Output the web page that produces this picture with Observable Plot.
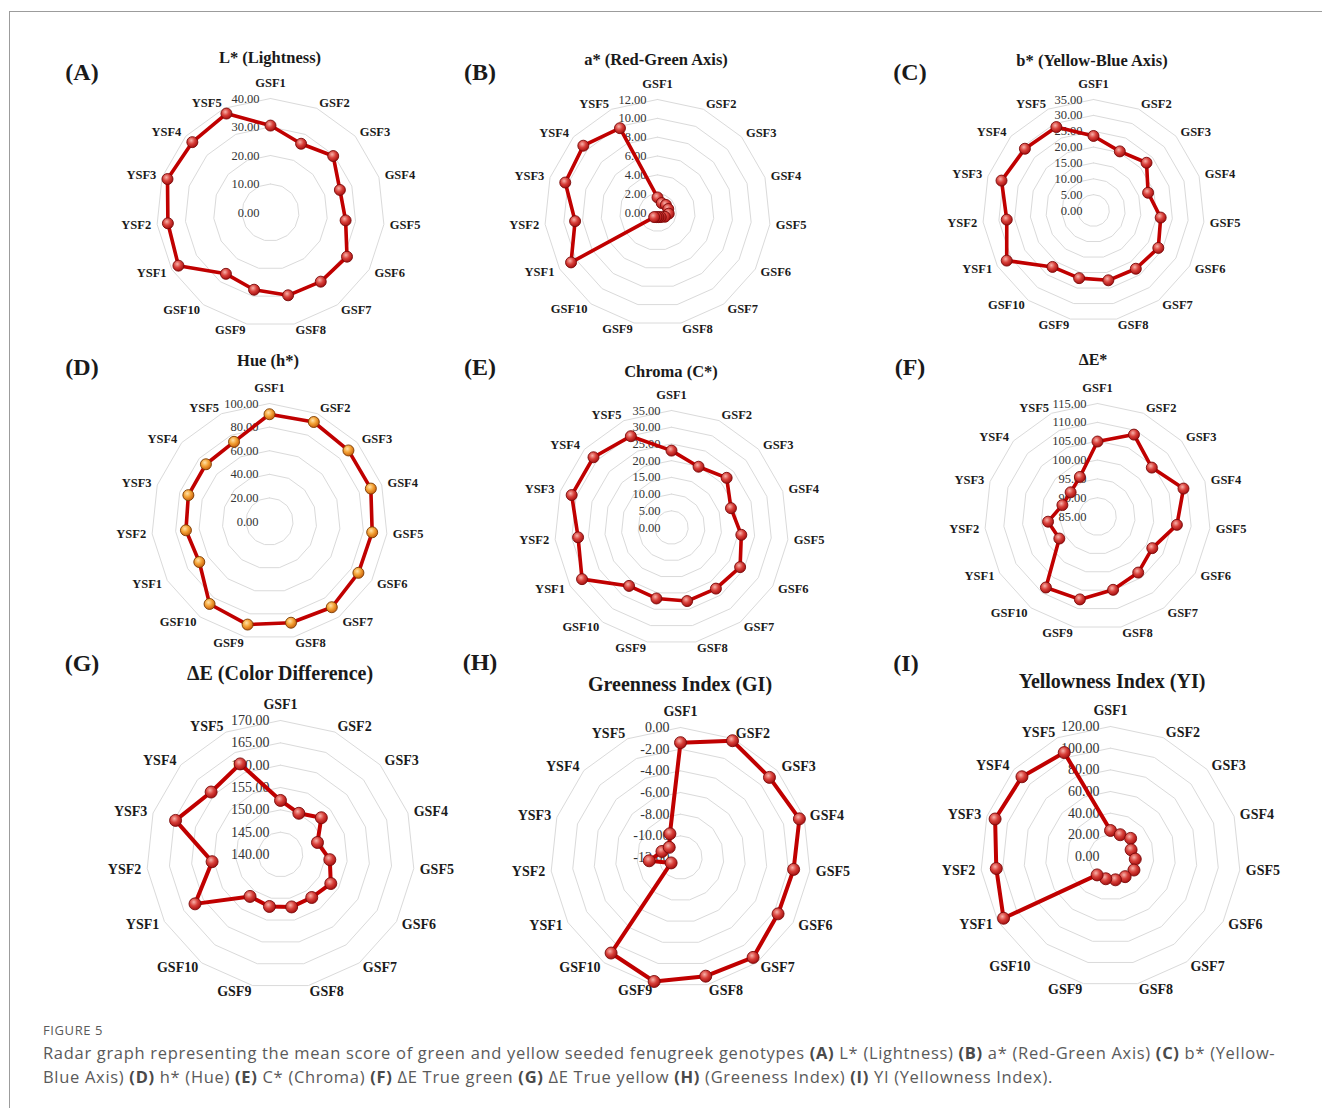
<!DOCTYPE html>
<html>
<head>
<meta charset="utf-8">
<script src="https://cdn.jsdelivr.net/npm/d3@7"></script>
<script src="https://cdn.jsdelivr.net/npm/@observablehq/plot@0.6"></script>
<style>
  html, body { margin: 0; padding: 0; background: #fff; }
  body { width: 1322px; height: 1108px; position: relative; overflow: hidden; font-family: "Liberation Serif", "Times New Roman", serif; }
  #frame { position: absolute; left: 9px; top: 11px; width: 1400px; height: 1200px; border-top: 1.5px solid #9c9c9c; border-left: 1.5px solid #9c9c9c; }
  .panel { position: absolute; }
  .letter { position: absolute; font: bold 24px "Liberation Serif", serif; color: #1a1a1a; transform: translate(-50%, -50%); white-space: nowrap; }
  .title { position: absolute; font-family: "Liberation Serif", serif; font-weight: bold; color: #1a1a1a; transform: translate(-50%, -50%); white-space: nowrap; }
  #figlabel { position: absolute; left: 43px; top: 1021px; font: 13px "Open Sans", sans-serif; color: #5a5a5a; letter-spacing: 0.6px; }
  #caption { position: absolute; left: 43px; top: 1041px; font: 16.5px/24px "Open Sans", sans-serif; color: #5a5a5a; white-space: nowrap; letter-spacing: 0.69px; }
  #caption b { font-weight: 700; color: #4a4a4a; }
</style>
</head>
<body>
<svg width="0" height="0" style="position:absolute">
  <defs>
    <radialGradient id="gRed" cx="40%" cy="35%" r="65%">
      <stop offset="0" stop-color="#f7b2aa"/>
      <stop offset="0.5" stop-color="#d8403a"/>
      <stop offset="1" stop-color="#a50f0f"/>
    </radialGradient>
    <radialGradient id="gOrange" cx="40%" cy="35%" r="65%">
      <stop offset="0" stop-color="#ffe2a8"/>
      <stop offset="0.5" stop-color="#f4a235"/>
      <stop offset="1" stop-color="#c8600e"/>
    </radialGradient>
  </defs>
</svg>
<div id="frame"></div>
<div id="figlabel">FIGURE 5</div>
<div id="caption">Radar graph representing the mean score of green and yellow seeded fenugreek genotypes <b>(A)</b> L* (Lightness) <b>(B)</b> a* (Red-Green Axis) <b>(C)</b> b* (Yellow-<br>Blue Axis) <b>(D)</b> h* (Hue) <b>(E)</b> C* (Chroma) <b>(F)</b> ΔE True green <b>(G)</b> ΔE True yellow <b>(H)</b> (Greeness Index) <b>(I)</b> YI (Yellowness Index).</div>
<script>
// ---------- data ----------
const categories = ["GSF1","GSF2","GSF3","GSF4","GSF5","GSF6","GSF7","GSF8","GSF9","GSF10","YSF1","YSF2","YSF3","YSF4","YSF5"];

const lightness    = [30.5,26.4,29.6,25.6,26.5,31.0,30.0,29.7,27.7,26.6,37.3,36.2,38.0,36.9,38.0];
const lightnessTicks = [0,10,20,30,40];

const redGreen     = [1.6,1.1,1.2,1.2,1.2,0.9,0.6,0.5,0.5,0.6,10.6,8.8,10.3,10.6,9.8];
const redGreenTicks = [0,2,4,6,8,10,12];

const yellowBlue   = [23.5,20.4,22.5,18.1,21.3,23.6,22.7,22.5,21.8,22.0,31.6,27.5,30.5,29.1,28.8];
const yellowBlueTicks = [0,5,10,15,20,25,30,35];

const hue          = [90.9,92.3,90.0,90.3,87.5,87.0,89.8,87.7,89.3,86.4,68.7,71.2,72.3,72.5,73.9];
const hueTicks = [0,20,40,60,80,100];

const chroma       = [23.0,19.9,22.2,18.7,21.0,23.7,22.6,22.5,21.7,21.6,30.9,28.1,31.4,31.4,29.9];
const chromaTicks = [0,5,10,15,20,25,30,35];

const deltaEStar   = [104.9,108.8,104.4,109.0,106.2,101.8,103.4,104.9,107.5,108.3,96.7,98.2,94.8,94.6,96.5];
const deltaEStarTicks = [85,90,95,100,105,110,115];

const colorDiff    = [152.1,150.1,152.3,148.7,151.1,153.0,151.9,152.0,151.9,151.6,162.1,155.4,164.7,160.9,162.2];
const colorDiffTicks = [140,145,150,155,160,165,170];

const greenness    = [-1.4,-0.2,-0.95,-0.46,-1.5,-1.6,-0.6,-0.8,-0.3,-1.1,-11.0,-9.1,-10.2,-10.6,-9.6];
const greennessTicks = [-12,-10,-8,-6,-4,-2,0];

const yellowness   = [24,22,25,20,23,25,23,22,21,21,114,106,112,110,105];
const yellownessTicks = [0,20,40,60,80,100,120];

const panelLetters = ["(A)","(B)","(C)","(D)","(E)","(F)","(G)","(H)","(I)"];
const panelTitles  = ["L* (Lightness)","a* (Red-Green Axis)","b* (Yellow-Blue Axis)","Hue (h*)","Chroma (C*)","ΔE*","ΔE (Color Difference)","Greenness Index (GI)","Yellowness Index (YI)"];

// ---------- layout ----------
const panels = [
  {values: lightness,  ticks: lightnessTicks,  cx: 270,  cy: 212, R: 114, lx: 82,  ly: 72,  tx: 270,  ty: 58,  tfs: 16.5, big: false},
  {values: redGreen,   ticks: redGreenTicks,   cx: 657,  cy: 212, R: 113, lx: 480, ly: 72,  tx: 656,  ty: 60,  tfs: 16.5, big: false},
  {values: yellowBlue, ticks: yellowBlueTicks, cx: 1093, cy: 210, R: 111, lx: 910, ly: 72,  tx: 1092, ty: 61,  tfs: 16.5, big: false},
  {values: hue,        ticks: hueTicks,        cx: 269,  cy: 521, R: 118, lx: 82,  ly: 367, tx: 268,  ty: 361, tfs: 16.5, big: false, orange: true},
  {values: chroma,     ticks: chromaTicks,     cx: 671,  cy: 527, R: 117, lx: 480, ly: 367, tx: 671,  ty: 372, tfs: 16.5, big: false},
  {values: deltaEStar, ticks: deltaEStarTicks, cx: 1097, cy: 516, R: 113, lx: 910, ly: 367, tx: 1093, ty: 360, tfs: 16,   big: false},
  {values: colorDiff,  ticks: colorDiffTicks,  cx: 280,  cy: 854, R: 134, lx: 82,  ly: 663, tx: 280,  ty: 673, tfs: 20,   big: true},
  {values: greenness,  ticks: greennessTicks,  cx: 680,  cy: 857, R: 130, lx: 480, ly: 662, tx: 680,  ty: 684, tfs: 20,   big: true},
  {values: yellowness, ticks: yellownessTicks, cx: 1110, cy: 856, R: 130, lx: 906, ly: 663, tx: 1112, ty: 681, tfs: 20,   big: true}
];

const serif = "Liberation Serif, Times New Roman, serif";
const n = categories.length;
const ang = i => 2 * Math.PI * i / n;

function radar(p) {
  const min = p.ticks[0], max = p.ticks[p.ticks.length - 1];
  const norm = v => (v - min) / (max - min);
  const M = 75;
  const pts = categories.map((c, i) => ({c, i, v: p.values[i]}));
  const rings = p.ticks.slice(1).flatMap(t => d3.range(n + 1).map(k => ({t, i: k % n})));
  const lr = (p.R + 6) / p.R;
  const topR = (p.R + 16) / p.R;
  const labs = categories.map((c, i) => ({c, i, s: Math.sin(ang(i))}));
  const labFs = p.big ? 14 : 12.5;
  const tickFs = p.big ? 14 : 12.5;
  const lab = (data, rr, opts) => Plot.text(data, {
    x: d => rr * Math.sin(ang(d.i)), y: d => rr * Math.cos(ang(d.i)), text: "c",
    fontFamily: serif, fontWeight: "bold", fontSize: labFs, fill: "#1a1a1a", ...opts
  });
  return Plot.plot({
    width: 2 * p.R + 2 * M,
    height: 2 * p.R + 2 * M,
    margin: M,
    x: {domain: [-1, 1], axis: null},
    y: {domain: [-1, 1], axis: null},
    style: {background: "transparent", overflow: "visible"},
    marks: [
      Plot.line(rings, {
        x: d => norm(d.t) * Math.sin(ang(d.i)), y: d => norm(d.t) * Math.cos(ang(d.i)),
        z: "t", stroke: "#dadada", strokeWidth: 1
      }),
      Plot.text(p.ticks, {
        x: () => 0, y: t => norm(t), text: t => t.toFixed(2),
        textAnchor: "end", dx: -11, fontFamily: serif, fontSize: tickFs, fill: "#333"
      }),
      lab(labs.filter(d => Math.abs(d.s) < 1e-6), topR, {}),
      lab(labs.filter(d => d.s > 1e-6), lr, {textAnchor: "start"}),
      lab(labs.filter(d => d.s < -1e-6), lr, {textAnchor: "end"}),
      Plot.line(pts, {
        x: d => norm(d.v) * Math.sin(ang(d.i)), y: d => norm(d.v) * Math.cos(ang(d.i)),
        curve: "linear-closed", stroke: "#c00000", strokeWidth: p.big ? 4 : 3.6, strokeLinejoin: "round"
      }),
      Plot.dot(pts, {
        x: d => norm(d.v) * Math.sin(ang(d.i)), y: d => norm(d.v) * Math.cos(ang(d.i)),
        r: p.big ? 6 : 5.5, fill: p.orange ? "url(#gOrange)" : "url(#gRed)",
        stroke: p.orange ? "#7a3a00" : "#7a0a0a", strokeWidth: 0.9
      })
    ]
  });
}

panels.forEach((p, k) => {
  const svg = radar(p);
  const M = 75;
  const wrap = document.createElement("div");
  wrap.className = "panel";
  wrap.style.left = (p.cx - p.R - M) + "px";
  wrap.style.top = (p.cy - p.R - M) + "px";
  wrap.appendChild(svg);
  document.body.appendChild(wrap);

  const letter = document.createElement("div");
  letter.className = "letter";
  letter.textContent = panelLetters[k];
  letter.style.left = p.lx + "px";
  letter.style.top = p.ly + "px";
  document.body.appendChild(letter);

  const title = document.createElement("div");
  title.className = "title";
  title.textContent = panelTitles[k];
  title.style.left = p.tx + "px";
  title.style.top = p.ty + "px";
  title.style.fontSize = p.tfs + "px";
  document.body.appendChild(title);
});
</script>
</body>
</html>
